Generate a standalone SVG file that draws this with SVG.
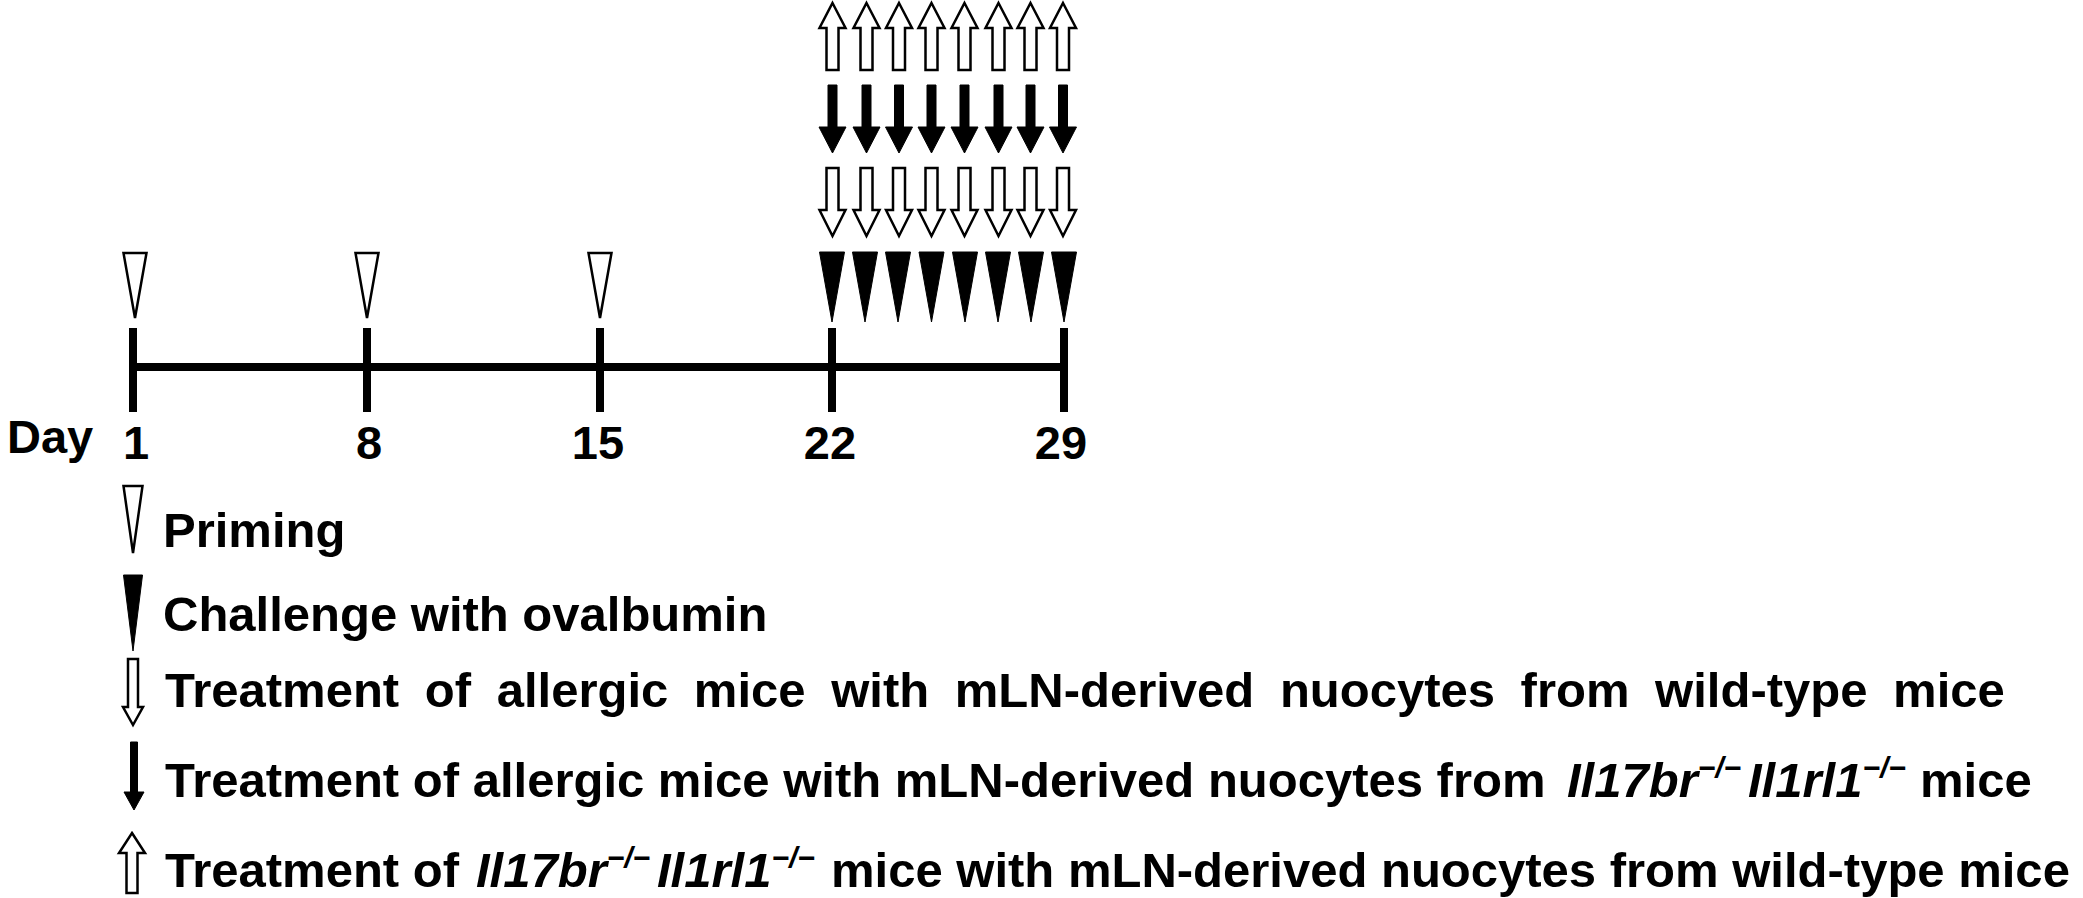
<svg xmlns="http://www.w3.org/2000/svg" xmlns:xlink="http://www.w3.org/1999/xlink" width="2083" height="898" viewBox="0 0 2083 898">
<style>
.t{font-family:"Liberation Sans",Arial,sans-serif;font-weight:bold;fill:#000}
.lg{font-size:49px}
.ax{font-size:47px}
.it{font-style:italic}
.sup{font-size:30px;font-style:italic}
.open{fill:#fff;stroke:#000;stroke-width:2.5;stroke-linejoin:miter}
.solid{fill:#000;stroke:#000;stroke-width:1}
.bar{stroke:#000;stroke-width:8;fill:none}
</style>
<defs>
<polygon id="upOpen" class="open" points="0,3 13,28 6,28 6,70 -6,70 -6,28 -13,28"/>
<polygon id="downSolid" class="solid" points="-4.5,85 4.5,85 4.5,127 13.5,127 0,153 -13.5,127 -4.5,127"/>
<polygon id="downOpen" class="open" points="-6,168 6,168 6,210 13,210 0,236 -13,210 -6,210"/>
<polygon id="triSolid" class="solid" points="-12.5,252 12.5,252 0,322"/>
<polygon id="triOpen" class="open" points="-11.5,253 11.5,253 0,318"/>
</defs>
<rect width="2083" height="898" fill="#fff"/>

<g id="connectors">
<line class="bar" x1="129" y1="367" x2="1068" y2="367"/>
<line class="bar" x1="133" y1="328" x2="133" y2="412"/>
<line class="bar" x1="367" y1="328" x2="367" y2="412"/>
<line class="bar" x1="600" y1="328" x2="600" y2="412"/>
<line class="bar" x1="832" y1="328" x2="832" y2="412"/>
<line class="bar" x1="1064" y1="328" x2="1064" y2="412"/>
</g>

<g id="axis-labels">
<text class="t ax" x="7" y="453">Day</text>
<text class="t ax" x="136" y="459" text-anchor="middle">1</text>
<text class="t ax" x="369" y="459" text-anchor="middle">8</text>
<text class="t ax" x="598" y="459" text-anchor="middle">15</text>
<text class="t ax" x="830" y="459" text-anchor="middle">22</text>
<text class="t ax" x="1061" y="459" text-anchor="middle">29</text>
</g>

<g id="priming-markers">
<use xlink:href="#triOpen" x="135"/>
<use xlink:href="#triOpen" x="367"/>
<use xlink:href="#triOpen" x="600"/>
</g>

<g id="challenge-markers">
<use xlink:href="#triSolid" x="832"/>
<use xlink:href="#triSolid" x="865"/>
<use xlink:href="#triSolid" x="898"/>
<use xlink:href="#triSolid" x="931.5"/>
<use xlink:href="#triSolid" x="965"/>
<use xlink:href="#triSolid" x="998"/>
<use xlink:href="#triSolid" x="1031"/>
<use xlink:href="#triSolid" x="1064"/>
</g>

<g id="wt-treatment-markers">
<use xlink:href="#downOpen" x="832.5"/>
<use xlink:href="#downOpen" x="866.5"/>
<use xlink:href="#downOpen" x="899"/>
<use xlink:href="#downOpen" x="931.5"/>
<use xlink:href="#downOpen" x="964.5"/>
<use xlink:href="#downOpen" x="998.5"/>
<use xlink:href="#downOpen" x="1030.5"/>
<use xlink:href="#downOpen" x="1063"/>
</g>

<g id="ko-treatment-markers">
<use xlink:href="#downSolid" x="832.5"/>
<use xlink:href="#downSolid" x="866.5"/>
<use xlink:href="#downSolid" x="899"/>
<use xlink:href="#downSolid" x="931.5"/>
<use xlink:href="#downSolid" x="964.5"/>
<use xlink:href="#downSolid" x="998.5"/>
<use xlink:href="#downSolid" x="1030.5"/>
<use xlink:href="#downSolid" x="1063"/>
</g>

<g id="ko-recipient-markers">
<use xlink:href="#upOpen" x="832.5"/>
<use xlink:href="#upOpen" x="866.5"/>
<use xlink:href="#upOpen" x="899"/>
<use xlink:href="#upOpen" x="931.5"/>
<use xlink:href="#upOpen" x="964.5"/>
<use xlink:href="#upOpen" x="998.5"/>
<use xlink:href="#upOpen" x="1030.5"/>
<use xlink:href="#upOpen" x="1063"/>
</g>

<g id="legend-priming">
<polygon class="open" points="123.5,486 142.5,486 133,553"/>
<text class="t lg" x="163" y="547">Priming</text>
</g>

<g id="legend-challenge">
<polygon class="solid" points="123.5,575 142.5,575 133,651"/>
<text class="t lg" x="163" y="631">Challenge with ovalbumin</text>
</g>

<g id="legend-wt">
<polygon class="open" points="128,659 138,659 138,707 143,707 133,725 123,707 128,707"/>
<text class="t lg" x="165" y="707" word-spacing="12">Treatment of allergic mice with mLN-derived nuocytes from wild-type mice</text>
</g>

<g id="legend-ko">
<polygon class="solid" points="130.5,742 137.5,742 137.5,792 144,792 134,810 124,792 130.5,792"/>
<text class="t lg" x="165" y="797">Treatment of allergic mice with mLN-derived nuocytes from <tspan class="it" x="1567">Il17br</tspan><tspan class="sup" dy="-19">−/−</tspan><tspan class="it" x="1748" dy="19">Il1rl1</tspan><tspan class="sup" dy="-19">−/−</tspan><tspan x="1920" dy="19">mice</tspan></text>
</g>

<g id="legend-ko-recipient">
<polygon class="open" points="132,833 145,853 137.5,853 137.5,893 126.5,893 126.5,853 119,853"/>
<text class="t lg" x="165" y="887">Treatment of <tspan class="it" x="476">Il17br</tspan><tspan class="sup" dy="-19">−/−</tspan><tspan class="it" x="657" dy="19">Il1rl1</tspan><tspan class="sup" dy="-19">−/−</tspan><tspan x="831" dy="19">mice with mLN-derived nuocytes from wild-type mice</tspan></text>
</g>
</svg>
